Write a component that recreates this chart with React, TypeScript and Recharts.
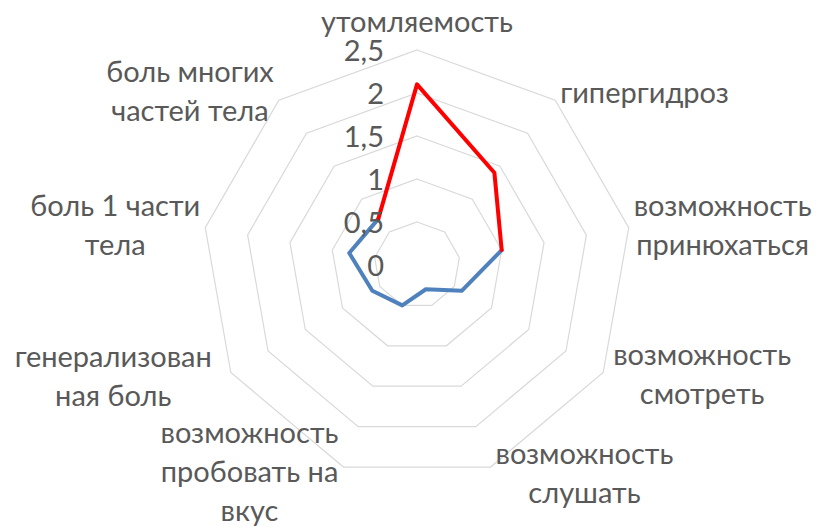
import React from 'react';
import { RadarChart, Radar, PolarGrid, PolarAngleAxis, PolarRadiusAxis } from 'recharts';

// categories clockwise from the top; "\n" marks where the label wraps
const categories = [
  'утомляемость',
  'гипергидроз',
  'возможность\nпринюхаться',
  'возможность\nсмотреть',
  'возможность\nслушать',
  'возможность\nпробовать на\nвкус',
  'генерализован\nная боль',
  'боль 1 части\nтела',
  'боль многих\nчастей тела',
];

// red piece of the outline (top part)
const redValues = [2.1, 1.4, 1.0, null, null, null, null, null, 0.7];
// blue piece of the outline (bottom part)
const blueValues = [null, null, 1.0, 0.6, 0.3, 0.5, 0.6, 0.8, 0.7];

const W = 831;
const H = 527;
const CX = 417;
const CY = 265;
const OUTER_R = 215;
const FONT = 'Lato, "Open Sans", sans-serif';
const FONT_SIZE = 29;
const LINE_H = 39;
const TEXT_COLOR = '#595959';

// small per-label corrections [dx, dy]
const labelNudge: Record<number, [number, number]> = {
  1: [0, -5],
  3: [5, 4],
  5: [0, -2],
  6: [-14, 6],
  8: [0, -6],
};

const chartData = categories.map((name, i) => ({
  name,
  red: redValues[i],
  blue: blueValues[i],
}));

let ctx: CanvasRenderingContext2D | null = null;
const textWidth = (s: string) => {
  if (!ctx) ctx = document.createElement('canvas').getContext('2d');
  if (!ctx) return s.length * FONT_SIZE * 0.5;
  ctx.font = `${FONT_SIZE}px ${FONT}`;
  return ctx.measureText(s).width;
};

const AngleTick: React.FC<any> = (props) => {
  const { x, y, payload, index } = props;
  const dx = x - CX;
  const dy = y - CY;
  const len = Math.sqrt(dx * dx + dy * dy) || 1;
  const cos = dx / len;
  const sin = -dy / len;
  const vx = CX + cos * OUTER_R;
  const vy = CY - sin * OUTER_R;

  const lines = String(payload.value).split('\n');
  const blockW = Math.max(...lines.map(textWidth));

  let centerX = vx;
  if (cos > 0.05) centerX = vx + 5 + blockW / 2;
  else if (cos < -0.05) centerX = vx - 5 - blockW / 2;

  let centerY = vy;
  if (sin > 0.95) centerY = vy - 26;
  else if (sin < -0.9) centerY = vy + 9;

  const nudge = labelNudge[index] || [0, 0];
  centerX += nudge[0];
  centerY += nudge[1];

  return (
    <g>
      {lines.map((line, i) => (
        <text
          key={i}
          x={centerX}
          y={centerY + (i - (lines.length - 1) / 2) * LINE_H + 7.5}
          textAnchor="middle"
          fill={TEXT_COLOR}
          fontSize={FONT_SIZE}
          fontFamily={FONT}
        >
          {line}
        </text>
      ))}
    </g>
  );
};

const RadiusTick: React.FC<any> = ({ x, y, payload }) => (
  <text
    x={x - 33}
    y={y + 10.5}
    textAnchor="end"
    fill={TEXT_COLOR}
    fontSize={FONT_SIZE}
    fontFamily={FONT}
  >
    {String(payload.value).replace('.', ',')}
  </text>
);

// open polyline through the defined points only (no closing edge)
const openLine = (color: string) => (props: any) => {
  const pts = props.points || [];
  const n = pts.length;
  const ok = (p: any) =>
    p && p.value != null && Number.isFinite(p.x) && Number.isFinite(p.y);
  let start = pts.findIndex((p: any, i: number) => ok(p) && !ok(pts[(i - 1 + n) % n]));
  if (start < 0) start = 0;
  const seq: any[] = [];
  for (let k = 0; k < n; k++) {
    const p = pts[(start + k) % n];
    if (!ok(p)) break;
    seq.push(p);
  }
  const d = seq.map((p, i) => `${i === 0 ? 'M' : 'L'}${p.x},${p.y}`).join('');
  return (
    <path d={d} fill="none" stroke={color} strokeWidth={4} strokeLinejoin="round" strokeLinecap="round" />
  );
};

const App: React.FC = () => {
  return (
    <div style={{ position: 'absolute', left: 0, top: 0, width: W, height: H, background: '#fff' }}>
      <RadarChart
        width={W}
        height={H}
        data={chartData}
        cx={CX}
        cy={CY}
        outerRadius={OUTER_R}
        startAngle={90}
        endAngle={-270}
        margin={{ top: 0, right: 0, bottom: 0, left: 0 }}
      >
        <PolarGrid gridType="polygon" radialLines={false} stroke="#d9d9d9" strokeWidth={1.2} />
        <PolarAngleAxis dataKey="name" tick={<AngleTick />} tickLine={false} axisLine={false} />
        <PolarRadiusAxis
          type="number"
          angle={90}
          domain={[0, 2.5]}
          allowDecimals
          allowDataOverflow
          tickCount={6}
          tick={<RadiusTick />}
          axisLine={false}
          tickLine={false}
        />
        <Radar dataKey="blue" stroke="#4f81bd" fill="none" dot={false} isAnimationActive={false} shape={openLine('#4f81bd')} />
        <Radar dataKey="red" stroke="#ff0000" fill="none" dot={false} isAnimationActive={false} shape={openLine('#ff0000')} />
      </RadarChart>
    </div>
  );
};

export default App;
